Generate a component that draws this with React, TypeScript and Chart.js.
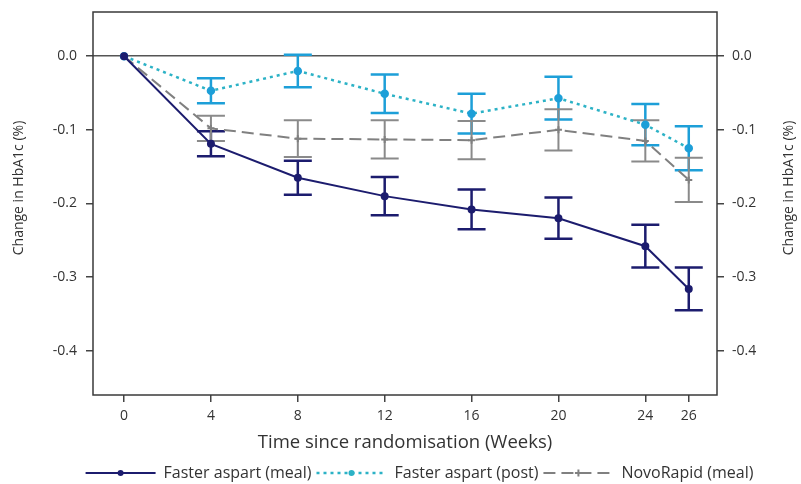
import React, { useEffect, useRef } from 'react';
import { Chart, registerables } from 'chart.js';

Chart.register(...registerables);

// ---- Data ----
const weeks = [0, 4, 8, 12, 16, 20, 24, 26];
const mealMean = [0, -0.119, -0.165, -0.19, -0.208, -0.22, -0.258, -0.316];
const mealErr = [0, 0.017, 0.023, 0.026, 0.027, 0.028, 0.029, 0.029];
const postMean = [0, -0.047, -0.02, -0.051, -0.078, -0.057, -0.093, -0.125];
const postErr = [0, 0.017, 0.022, 0.026, 0.027, 0.029, 0.028, 0.03];
const novoMean = [0, -0.098, -0.112, -0.113, -0.114, -0.1, -0.115, -0.168];
const novoErr = [0, 0.017, 0.025, 0.026, 0.026, 0.028, 0.028, 0.03];
const yTicks = [0, -0.1, -0.2, -0.3, -0.4];
const seriesNames = ['Faster aspart (meal)', 'Faster aspart (post)', 'NovoRapid (meal)'];
const xTitle = 'Time since randomisation (Weeks)';
const yTitle = 'Change in HbA1c (%)';

const FONT = 'Open Sans';
const TEXT = '#333333';
const lineColors = ['#1c1c6e', '#2cb2c6', '#808080'];
const barColors = ['#1c1c6e', '#1d9fd8', '#8a8a8a'];
const errSets = [mealErr, postErr, novoErr];

const errorBarPlugin = {
  id: 'errorBars',
  beforeDatasetsDraw(chart: any) {
    const { ctx, scales } = chart;
    const xs = scales.x;
    const ys = scales.y;
    chart.data.datasets.forEach((ds: any, i: number) => {
      const errs = errSets[i];
      ctx.save();
      ctx.strokeStyle = barColors[i];
      ctx.lineWidth = i === 2 ? 2 : 2.5;
      ds.data.forEach((p: any, j: number) => {
        const e = errs[j];
        if (!e) return;
        const px = xs.getPixelForValue(p.x);
        const top = ys.getPixelForValue(p.y + e);
        const bot = ys.getPixelForValue(p.y - e);
        const hw = 14;
        ctx.beginPath();
        ctx.moveTo(px, top);
        ctx.lineTo(px, bot);
        ctx.moveTo(px - hw, top);
        ctx.lineTo(px + hw, top);
        ctx.moveTo(px - hw, bot);
        ctx.lineTo(px + hw, bot);
        ctx.stroke();
      });
      ctx.restore();
    });
  },
};

const framePlugin = {
  id: 'frame',
  afterDraw(chart: any) {
    const { ctx, chartArea: a } = chart;
    ctx.save();
    ctx.strokeStyle = '#3a3a3a';
    ctx.lineWidth = 1.5;
    ctx.strokeRect(a.left, a.top, a.right - a.left, a.bottom - a.top);
    // y titles (both read bottom-to-top)
    ctx.fillStyle = TEXT;
    ctx.font = `14px "${FONT}"`;
    ctx.textAlign = 'center';
    ctx.textBaseline = 'middle';
    const cy = 188;
    [19, 789].forEach((cx) => {
      ctx.save();
      ctx.translate(cx, cy);
      ctx.rotate(-Math.PI / 2);
      ctx.fillText(yTitle, 0, 0);
      ctx.restore();
    });
    // legend markers
    const legend = chart.legend;
    if (legend && legend.legendHitBoxes) {
      legend.legendHitBoxes.forEach((hb: any, i: number) => {
        const mx = hb.left + 35;
        const my = hb.top + hb.height / 2;
        ctx.fillStyle = lineColors[i];
        ctx.strokeStyle = lineColors[i];
        ctx.setLineDash([]);
        if (i === 2) {
          ctx.lineWidth = 2;
          ctx.beginPath();
          ctx.moveTo(mx - 3.5, my);
          ctx.lineTo(mx + 3.5, my);
          ctx.moveTo(mx, my - 3.5);
          ctx.lineTo(mx, my + 3.5);
          ctx.stroke();
        } else {
          ctx.beginPath();
          ctx.arc(mx, my, 3, 0, Math.PI * 2);
          ctx.fill();
        }
      });
    }
    ctx.restore();
  },
};

const noPad = (s: any) => {
  s.paddingTop = 0;
  s.paddingBottom = 0;
  s.paddingLeft = 0;
  s.paddingRight = 0;
};

export default function App() {
  const ref = useRef<HTMLCanvasElement | null>(null);

  useEffect(() => {
    if (!ref.current) return;
    const mk = (arr: number[]) => weeks.map((w, i) => ({ x: w, y: arr[i] }));
    const chart = new Chart(ref.current, {
      type: 'line',
      data: {
        datasets: [
          {
            label: seriesNames[0],
            data: mk(mealMean),
            borderColor: lineColors[0],
            backgroundColor: lineColors[0],
            borderWidth: 2,
            pointRadius: 3,
            pointStyle: 'circle',
            tension: 0,
          },
          {
            label: seriesNames[1],
            data: mk(postMean),
            borderColor: lineColors[1],
            backgroundColor: barColors[1],
            pointBorderColor: barColors[1],
            borderWidth: 2.5,
            borderDash: [3, 4],
            pointRadius: 3,
            pointStyle: 'circle',
            tension: 0,
          },
          {
            label: seriesNames[2],
            data: mk(novoMean),
            borderColor: lineColors[2],
            backgroundColor: lineColors[2],
            borderWidth: 2,
            borderDash: [12, 6],
            pointRadius: 3.5,
            pointStyle: 'cross',
            pointBorderWidth: 2,
            tension: 0,
          },
        ],
      },
      options: {
        responsive: false,
        animation: false,
        devicePixelRatio: 1,
        layout: { padding: { top: 12, left: 38, right: 0, bottom: -7 } },
        plugins: {
          tooltip: { enabled: false },
          legend: {
            position: 'bottom',
            labels: {
              usePointStyle: true,
              pointStyleWidth: 70,
              boxHeight: 16,
              padding: 5,
              color: TEXT,
              font: { family: FONT, size: 16 },
              generateLabels: (chart: any) =>
                chart.data.datasets.map((ds: any, i: number) => ({
                  text: ds.label,
                  datasetIndex: i,
                  pointStyle: 'line',
                  strokeStyle: lineColors[i],
                  fillStyle: lineColors[i],
                  lineWidth: i === 1 ? 2.5 : 2,
                  lineDash: i === 1 ? [3, 4] : i === 2 ? [12, 6] : [],
                  fontColor: TEXT,
                  hidden: false,
                })),
            },
          },
        },
        scales: {
          x: {
            type: 'linear',
            min: -1.43,
            max: 27.3,
            afterBuildTicks: (s: any) => {
              s.ticks = weeks.map((v) => ({ value: v }));
            },
            afterFit: (s: any) => {
              s.height = 65;
              noPad(s);
            },
            border: { display: false },
            grid: { drawOnChartArea: false, tickLength: 7, tickColor: '#444', lineWidth: 1.5 },
            ticks: {
              padding: 6,
              color: TEXT,
              autoSkip: false,
              maxRotation: 0,
              font: { family: FONT, size: 14 },
              callback: (v: any) => String(v),
            },
            title: {
              display: true,
              text: xTitle,
              color: TEXT,
              font: { family: FONT, size: 18.5 },
              padding: { top: 0, bottom: 6 },
            },
          },
          y: {
            type: 'linear',
            position: 'left',
            min: -0.46,
            max: 0.06,
            afterBuildTicks: (s: any) => {
              s.ticks = yTicks.map((v) => ({ value: v }));
            },
            afterFit: (s: any) => {
              s.width = 55;
              noPad(s);
            },
            border: { display: false },
            grid: {
              color: (c: any) => (c.tick && Math.abs(c.tick.value) < 1e-9 ? '#555555' : 'rgba(0,0,0,0)'),
              lineWidth: 1.5,
              tickLength: 7,
              tickColor: '#444',
            },
            ticks: {
              padding: 9,
              color: TEXT,
              font: { family: FONT, size: 14 },
              callback: (v: any) => Number(v).toFixed(1),
            },
          },
          y2: {
            type: 'linear',
            position: 'right',
            min: -0.46,
            max: 0.06,
            afterBuildTicks: (s: any) => {
              s.ticks = yTicks.map((v) => ({ value: v }));
            },
            afterFit: (s: any) => {
              s.width = 84;
              noPad(s);
            },
            border: { display: false },
            grid: { drawOnChartArea: false, tickLength: 7, tickColor: '#444', lineWidth: 1.5 },
            ticks: {
              padding: 8,
              color: TEXT,
              font: { family: FONT, size: 14 },
              callback: (v: any) => Number(v).toFixed(1),
            },
          },
        },
      } as any,
      plugins: [errorBarPlugin, framePlugin],
    });
    return () => chart.destroy();
  }, []);

  return (
    <div style={{ position: 'fixed', left: 0, top: 0, width: 801, height: 484, background: '#fff' }}>
      <canvas ref={ref} width={801} height={484} style={{ display: 'block' }} />
    </div>
  );
}
